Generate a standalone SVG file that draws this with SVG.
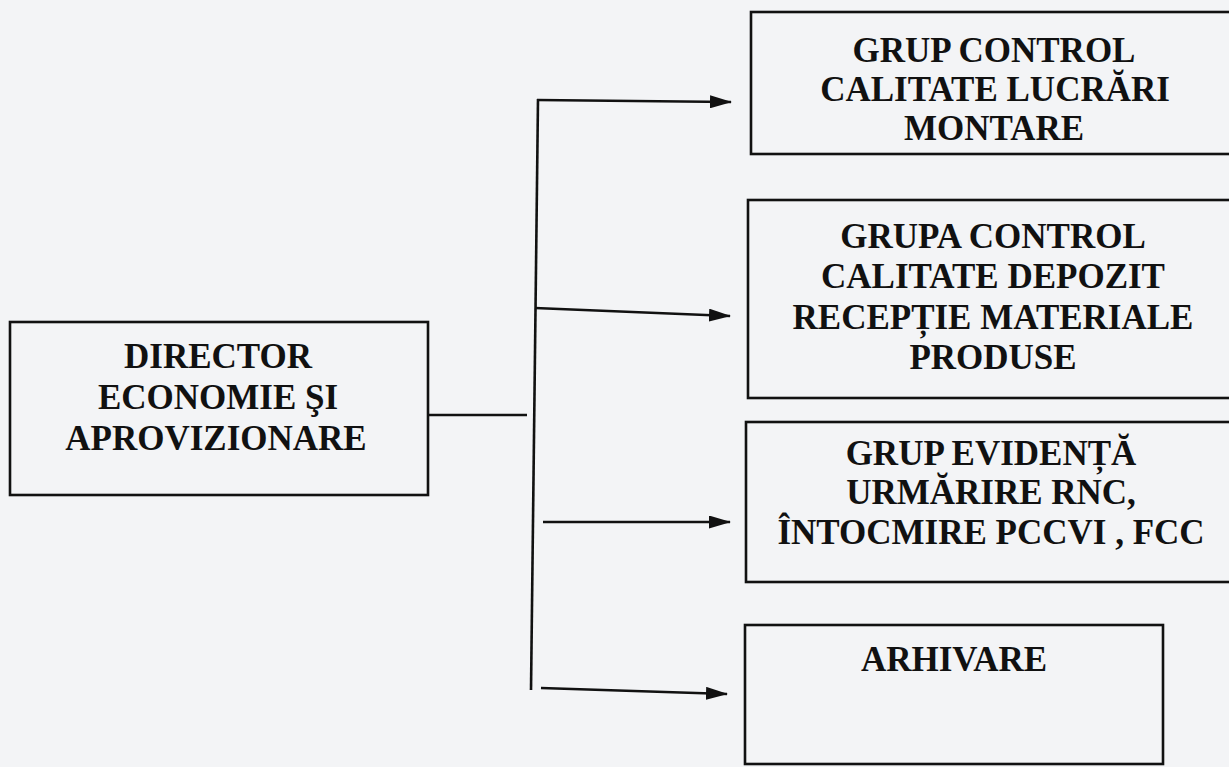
<svg xmlns="http://www.w3.org/2000/svg" width="1229" height="767" viewBox="0 0 1229 767">
<style>
.box{fill:none;stroke:#111;stroke-width:2.6}
.ln{fill:none;stroke:#111;stroke-width:2.6}
.t{font-family:"Liberation Serif","Times New Roman",serif;font-weight:bold;font-size:35px;fill:#111;text-anchor:middle}
</style>
<defs>
<marker id="ah" viewBox="0 0 22 13" refX="21" refY="6.5" markerWidth="22" markerHeight="13" markerUnits="userSpaceOnUse" orient="auto">
<path d="M0,0 L22,6.5 L0,13 Z" fill="#111"/>
</marker>
</defs>
<rect width="1229" height="767" fill="#f3f4f6"/>
<g id="connectors">
<line class="ln" x1="428" y1="415" x2="527" y2="415"/>
<line class="ln" x1="538" y1="99" x2="531" y2="690"/>
<line class="ln" x1="537" y1="100" x2="731" y2="102" marker-end="url(#ah)"/>
<line class="ln" x1="535" y1="308" x2="730" y2="316" marker-end="url(#ah)"/>
<line class="ln" x1="543" y1="522" x2="730" y2="522" marker-end="url(#ah)"/>
<line class="ln" x1="541" y1="688" x2="727" y2="694" marker-end="url(#ah)"/>
</g>
<g id="director">
<rect class="box" x="10" y="322" width="418" height="173"/>
<text class="t" x="218" y="368">DIRECTOR</text>
<text class="t" x="218" y="409">ECONOMIE ŞI</text>
<text class="t" x="216" y="450">APROVIZIONARE</text>
</g>
<g id="grup-control-montare">
<rect class="box" x="751" y="12" width="490" height="142"/>
<text class="t" x="994" y="62">GRUP CONTROL</text>
<text class="t" x="995" y="101">CALITATE LUCRĂRI</text>
<text class="t" x="994" y="140">MONTARE</text>
</g>
<g id="grupa-control-depozit">
<rect class="box" x="748" y="200" width="490" height="198"/>
<text class="t" x="993" y="248">GRUPA CONTROL</text>
<text class="t" x="993" y="288">CALITATE DEPOZIT</text>
<text class="t" x="993" y="329">RECEPȚIE MATERIALE</text>
<text class="t" x="993" y="369">PRODUSE</text>
</g>
<g id="grup-evidenta">
<rect class="box" x="746" y="422" width="490" height="160"/>
<text class="t" x="991" y="465">GRUP EVIDENȚĂ</text>
<text class="t" x="991" y="504">URMĂRIRE RNC,</text>
<text class="t" x="991" y="544">ÎNTOCMIRE PCCVI , FCC</text>
</g>
<g id="arhivare">
<rect class="box" x="745" y="625" width="418" height="139"/>
<text class="t" x="954" y="671">ARHIVARE</text>
</g>
</svg>
